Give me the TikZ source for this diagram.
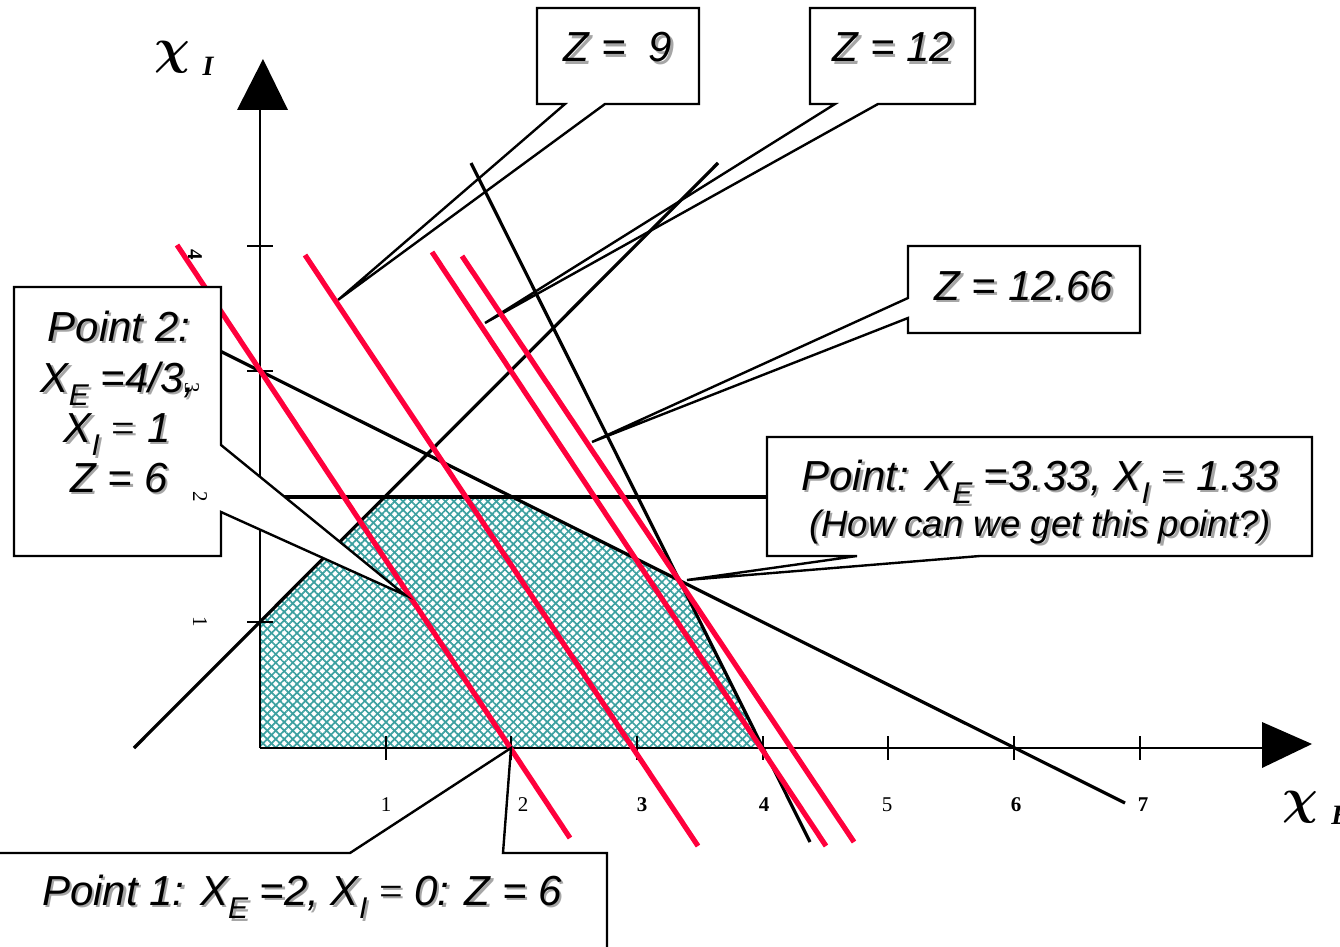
\documentclass[tikz,border=0pt]{standalone}
\usepackage{fontspec}
\setmainfont{Liberation Serif}
\newfontfamily\arial{Liberation Sans}
\usetikzlibrary{patterns.meta}
\definecolor{redl}{RGB}{255,0,60}
\definecolor{hatchc}{RGB}{60,160,160}
\newcommand\shd[1]{\makebox[0pt][l]{\hspace{1.2pt}\raisebox{-1.2pt}{\color{black!35}#1}}#1}
\newcommand\sbx[1]{\raisebox{-0.33em}{\fontsize{15}{15}\selectfont #1}}
\newcommand\teq{{\rmfamily\upshape =}}
\begin{document}
\begin{tikzpicture}[x=0.5pt,y=-0.5pt,
  callout/.style={draw=black, line width=1.2pt, fill=white, line join=miter},
  lbl/.style={font=\arial\itshape\fontsize{21}{24}\selectfont, inner sep=0, anchor=base},
  lblsmall/.style={font=\arial\itshape\fontsize{18.3}{20}\selectfont, inner sep=0, anchor=base},
  blk/.style={line width=1.6pt, black},
  redline/.style={line width=2.6pt, redl},
  ax/.style={line width=0.6pt, black},
  ticklbl/.style={font=\fontsize{10.5}{12}\selectfont, inner sep=0},
  tickbold/.style={font=\bfseries\fontsize{10.5}{12}\selectfont, inner sep=0},
  chilbl/.style={font=\boldmath\fontsize{29}{29}\selectfont, inner sep=0}
]
\useasboundingbox (0,0) rectangle (1340,947);

% feasible region
\path[pattern={Lines[angle=45,distance=3pt,line width=0.85pt]}, pattern color=hatchc]
  (260,748) -- (763,748) -- (679,580) -- (511,497) -- (386,497) -- (260,622) -- cycle;
\path[pattern={Lines[angle=-45,distance=3pt,line width=0.85pt]}, pattern color=hatchc]
  (260,748) -- (763,748) -- (679,580) -- (511,497) -- (386,497) -- (260,622) -- cycle;

% axes
\draw[ax] (260,748) -- (1262,748);
\draw[ax] (260,748) -- (260,110);
\fill (237,110) -- (288,110) -- (263,59) -- cycle;
\fill (1262,722) -- (1262,768) -- (1312,744) -- cycle;
\foreach \x in {386,511,637,763,888,1014,1140} \draw[ax] (\x,736) -- (\x,760);
\foreach \y in {246,371,497,622} \draw[ax] (247,\y) -- (273,\y);

% Z callouts (drawn under the lines)
\draw[callout] (537,8) -- (699,8) -- (699,104) -- (605,104) -- (338,300) -- (565,104) -- (537,104) -- cycle;
\node[lbl] (z9) at (618,62) {\shd{Z =\ \ 9}};
\draw[callout] (810,8) -- (975,8) -- (975,104) -- (878,104) -- (485,323) -- (835,104) -- (810,104) -- cycle;
\node[lbl] (z12) at (893,62) {\shd{Z = 12}};
\draw[callout] (908,246) -- (1140,246) -- (1140,333) -- (908,333) -- (908,318) -- (592,442) -- (908,298) -- cycle;
\node[lbl] (z1266) at (1024,300) {\shd{Z = 12.66}};

% constraint lines
\draw[blk] (134,748) -- (718,163);
\draw[blk] (260,497) -- (767,497);
\draw[blk] (200,341) -- (1125,803);
\draw[blk] (471,163) -- (810,842);

% objective lines
\draw[redline] (177,245) -- (570,838);
\draw[redline] (305,255) -- (698,846);
\draw[redline] (432,252) -- (826,846);
\draw[redline] (462,256) -- (854,842);

% point callouts
\draw[callout] (767,437) -- (1312,437) -- (1312,556) -- (980,556) -- (687,580) -- (857,556) -- (767,556) -- cycle;
\node[lbl] (pt1) at (1040,490) {\shd{Point: X\sbx{E} =3.33, X\sbx{I} \teq{} 1.33}};
\node[lblsmall] (pt2) at (1040,536) {\shd{(How can we get this point?)}};

\draw[callout] (14,287) -- (221,287) -- (221,445) -- (405,595) -- (221,512) -- (221,556) -- (14,556) -- cycle;
\node[lbl] (p2a) at (119,341) {\shd{Point 2:}};
\node[lbl] (p2b) at (118,392) {\shd{X\sbx{E} =4/3,}};
\node[lbl] (p2c) at (117,442) {\shd{X\sbx{I} \teq{} 1}};
\node[lbl] (p2d) at (119,492) {\shd{Z = 6}};

\draw[callout] (-5,853) -- (350,853) -- (511,748) -- (503,853) -- (607,853) -- (607,955) -- (-5,955) -- cycle;
\node[lbl] (p1) at (302,905) {\shd{Point 1: X\sbx{E} =2, X\sbx{I} \teq{} 0: Z = 6}};

% tick labels
\node[ticklbl] (tx1) at (386,805) {1};
\node[ticklbl] (tx2) at (523,805) {2};
\node[tickbold] (tx3) at (642,805) {3};
\node[tickbold] (tx4) at (764,805) {4};
\node[ticklbl] (tx5) at (887,805) {5};
\node[tickbold] (tx6) at (1016,805) {6};
\node[tickbold] (tx7) at (1143,805) {7};
\node[ticklbl, rotate=-90] (ty1) at (200,622) {1};
\node[ticklbl, rotate=-90] (ty2) at (200,497) {2};
\node[ticklbl, rotate=-90] (ty3) at (192,388) {3};
\node[tickbold, rotate=-90] (ty4) at (195,255) {4};

% axis labels
\node[chilbl] (chiI) at (172,57) {$\chi$};
\node[font=\bfseries\itshape\fontsize{14}{14}\selectfont, inner sep=0] (subI) at (208,66) {I};
\node[chilbl] (chiE) at (1300,807) {$\chi$};
\node[font=\bfseries\itshape\fontsize{14}{14}\selectfont, inner sep=0, anchor=west] (subE) at (1331,815) {E};
\end{tikzpicture}
\end{document}
